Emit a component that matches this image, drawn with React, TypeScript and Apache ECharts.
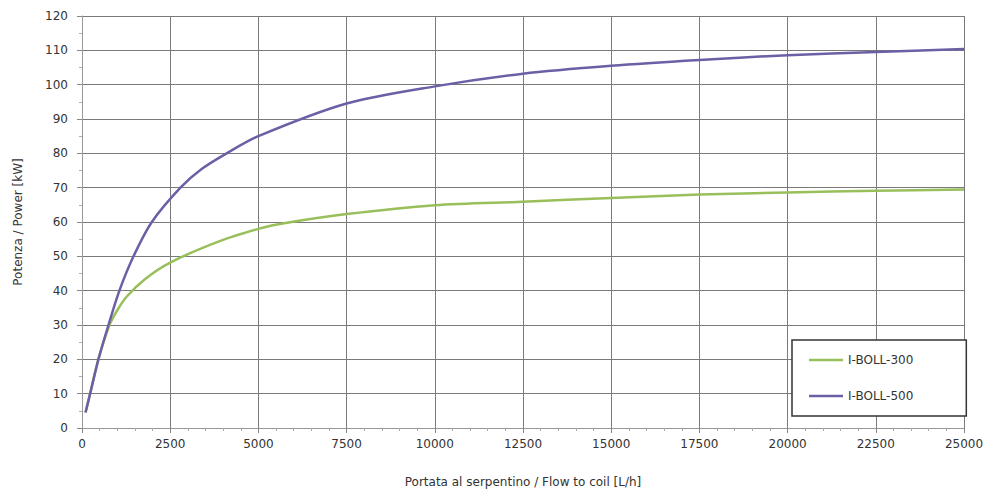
import React, { useEffect, useRef } from "react";
import * as echarts from "echarts";

const seriesNames = ["I-BOLL-300", "I-BOLL-500"];

const flow300 = [100, 230, 465, 780, 1000, 1270, 1800, 2500, 3920, 5000, 5530, 7500, 10000, 12500, 15000, 17500, 20000, 22500, 25000];
const power300 = [4.5, 10, 20, 30, 34.3, 38.3, 43.5, 48.2, 54.5, 58, 59.3, 62.3, 64.9, 65.9, 67, 68, 68.6, 69.1, 69.5];

const flow500 = [100, 230, 465, 750, 1060, 1460, 1980, 2790, 3400, 4100, 5000, 7500, 10000, 12500, 15000, 17500, 20000, 22500, 25000];
const power500 = [4.5, 10, 20, 30, 40, 50, 60, 70, 75.5, 80, 85, 94.5, 99.5, 103.2, 105.5, 107.2, 108.6, 109.5, 110.4];

const xTicks = [0, 2500, 5000, 7500, 10000, 12500, 15000, 17500, 20000, 22500, 25000];
const yTicks = [0, 10, 20, 30, 40, 50, 60, 70, 80, 90, 100, 110, 120];

const FONT = "DejaVu Sans";

export default function App() {
  const ref = useRef<HTMLDivElement>(null);
  useEffect(() => {
    if (!ref.current) return;
    const chart = echarts.init(ref.current, undefined, { renderer: "svg" });
    const pairs = (xs: number[], ys: number[]) => xs.map((x, i) => [x, ys[i]]);
    chart.setOption({
      animation: false,
      backgroundColor: "#ffffff",
      textStyle: { fontFamily: FONT },
      grid: { left: 82, right: 33, top: 16, bottom: 69 },
      legend: {
        orient: "vertical",
        left: 792,
        top: 340,
        icon: "rect",
        backgroundColor: "#ffffff",
        borderColor: "#333333",
        borderWidth: 1.5,
        borderRadius: 0,
        padding: [14, 53, 14, 17],
        itemGap: 24,
        itemWidth: 34,
        itemHeight: 2.5,
        textStyle: { fontFamily: FONT, fontSize: 12, color: "#333333" },
        data: seriesNames,
      },
      xAxis: {
        type: "value",
        min: xTicks[0],
        max: xTicks[xTicks.length - 1],
        interval: 2500,
        name: "Portata al serpentino / Flow to coil [L/h]",
        nameLocation: "middle",
        nameGap: 48,
        nameTextStyle: { fontFamily: FONT, fontSize: 12, color: "#333333" },
        axisLine: { show: true, lineStyle: { color: "#999999", width: 1 } },
        axisTick: { show: true, length: 5, lineStyle: { color: "#888888" } },
        minorTick: { show: true, splitNumber: 5, length: 3, lineStyle: { color: "#aaaaaa" } },
        axisLabel: {
          margin: 10,
          fontFamily: FONT,
          fontSize: 12,
          color: "#333333",
          formatter: (v: number) => (xTicks.includes(v) ? String(v) : ""),
        },
        splitLine: { show: true, lineStyle: { color: "#7a7a7a", width: 1 } },
      },
      yAxis: {
        type: "value",
        min: yTicks[0],
        max: yTicks[yTicks.length - 1],
        interval: 10,
        name: "Potenza / Power [kW]",
        nameLocation: "middle",
        nameGap: 58,
        nameRotate: 90,
        nameTextStyle: { fontFamily: FONT, fontSize: 12, color: "#333333" },
        axisLine: { show: true, lineStyle: { color: "#999999", width: 1 } },
        axisTick: { show: true, length: 5, lineStyle: { color: "#888888" } },
        minorTick: { show: true, splitNumber: 2, length: 3, lineStyle: { color: "#aaaaaa" } },
        axisLabel: {
          margin: 14,
          fontFamily: FONT,
          fontSize: 12,
          color: "#333333",
          formatter: (v: number) => (yTicks.includes(v) ? String(v) : ""),
        },
        splitLine: { show: true, lineStyle: { color: "#7a7a7a", width: 1 } },
      },
      series: [
        {
          name: seriesNames[0],
          type: "line",
          smooth: 0.3,
          symbol: "none",
          data: pairs(flow300, power300),
          lineStyle: { color: "#98bf5a", width: 2.5 },
          itemStyle: { color: "#98bf5a" },
        },
        {
          name: seriesNames[1],
          type: "line",
          smooth: 0.3,
          symbol: "none",
          data: pairs(flow500, power500),
          lineStyle: { color: "#6c5fa6", width: 2.5 },
          itemStyle: { color: "#6c5fa6" },
        },
      ],
    });
    return () => chart.dispose();
  }, []);
  return <div ref={ref} style={{ width: 997, height: 497, position: "absolute", left: 0, top: 0 }} />;
}
